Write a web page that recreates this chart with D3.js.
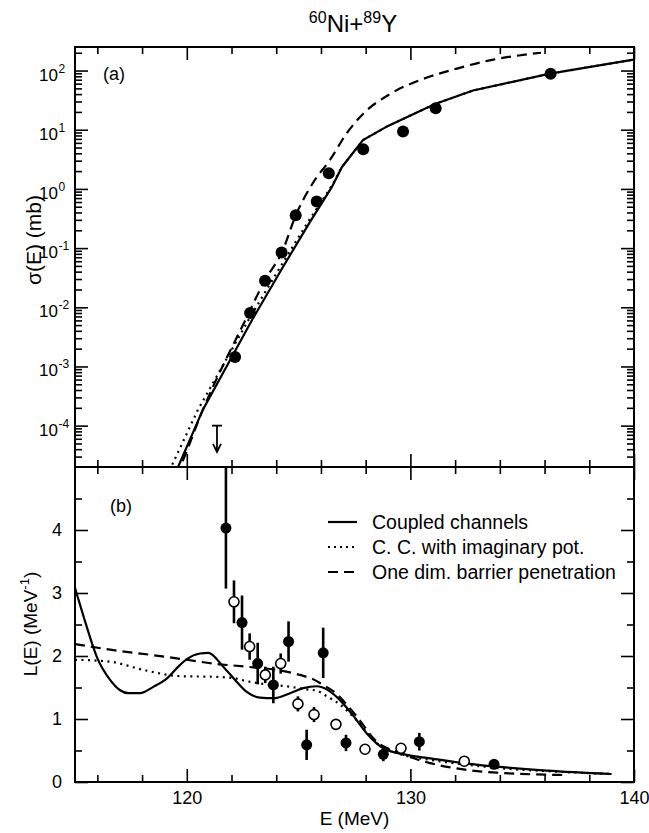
<!DOCTYPE html>
<html>
<head>
<meta charset="utf-8">
<script src="https://cdn.jsdelivr.net/npm/d3@7"></script>
<style>
body { margin: 0; background: #fff; }
text { font-family: "Liberation Sans", Arial, Helvetica, sans-serif; fill: #000; }
</style>
</head>
<body>
<div id="chartContainer"></div>
<script>
// (a) measured fusion cross section, mb
var sigmaE = [122.16, 122.83, 123.50, 124.24, 124.87, 125.81, 126.35, 127.89, 129.67, 131.13, 136.27];
var sigmaVal = [1.45e-3, 8.0e-3, 0.028, 0.084, 0.36, 0.61, 1.84, 4.7, 9.3, 23, 88];
// upper limit (arrow)
var limitE = [121.35];
var limitVal = [1.0e-4];
var limitTip = [3.6e-5];

// (a) calculations
var ccE = [119.2, 119.61, 120.72, 122.96, 124.30, 125.51, 126.49, 126.94, 127.88, 129.00, 131.10, 132.80, 136.24, 139.91, 140.5];
var ccSigma = [8.5e-6, 2.0e-5, 1.86e-4, 6.5e-3, 0.048, 0.277, 1.08, 2.35, 6.7, 11.6, 27.2, 46, 88.5, 151, 160];
var ccImE = [118.95, 119.3, 120.5, 122.8, 124.18, 125.42, 126.45, 126.94, 127.88, 129.00, 131.10, 132.80, 136.24, 139.91, 140.5];
var ccImSigma = [8.5e-6, 2.0e-5, 1.86e-4, 6.5e-3, 0.048, 0.277, 1.08, 2.35, 6.7, 11.6, 27.2, 46, 88.5, 151, 160];
var oneDimE = [119.2, 119.70, 120.72, 122.69, 123.50, 124.26, 124.88, 125.64, 126.40, 127.16, 127.88, 129.09, 130.56, 132.08, 133.60, 135.84];
var oneDimSigma = [8.2e-6, 2.0e-5, 1.86e-4, 6.9e-3, 0.029, 0.086, 0.363, 1.26, 3.08, 8.8, 18.5, 40.2, 72, 108, 150, 200];

// (b) L(E), MeV^-1
var filledE = [121.75, 122.47, 123.17, 123.87, 124.55, 125.36, 126.10, 127.12, 128.79, 130.40, 133.74];
var filledL = [4.03, 2.53, 1.88, 1.54, 2.23, 0.59, 2.05, 0.62, 0.44, 0.64, 0.28];
var filledErr = [0.96, 0.43, 0.33, 0.29, 0.32, 0.24, 0.40, 0.13, 0.11, 0.14, 0.05];
var openE = [122.11, 122.81, 123.51, 124.20, 124.97, 125.69, 126.67, 127.97, 129.58, 132.41];
var openL = [2.86, 2.15, 1.70, 1.88, 1.24, 1.07, 0.915, 0.52, 0.535, 0.33];
var openErr = [0.34, 0.21, 0.13, 0.16, 0.12, 0.12, 0.07, 0.04, 0.04, 0.04];

var lccE = [115.0, 115.52, 115.97, 116.57, 117.0, 117.38, 117.91, 118.5, 119.03, 119.70, 120.0, 120.59, 120.96, 121.63, 122.16, 122.68, 123.27, 123.87, 124.62, 125.21, 125.81, 126.26, 126.85, 127.45, 128.05, 128.79, 129.83, 130.88, 132.37, 133.86, 136.10, 139.0];
var lccL = [3.08, 2.47, 1.99, 1.62, 1.46, 1.41, 1.41, 1.51, 1.62, 1.86, 1.95, 2.04, 2.05, 1.83, 1.62, 1.43, 1.34, 1.33, 1.41, 1.49, 1.52, 1.47, 1.30, 1.05, 0.77, 0.535, 0.43, 0.376, 0.30, 0.243, 0.18, 0.127];
var lccImE = [115.0, 116.57, 118.05, 119.70, 121.18, 122.08, 122.68, 123.57, 124.47, 125.36, 125.81, 126.26, 126.85, 127.60, 128.49, 129.40, 130.90, 132.40, 134.0, 136.5, 139.0];
var lccImL = [1.94, 1.91, 1.78, 1.68, 1.67, 1.65, 1.60, 1.55, 1.52, 1.47, 1.45, 1.36, 1.23, 0.98, 0.62, 0.46, 0.35, 0.28, 0.22, 0.165, 0.127];
var lOneDimE = [115.0, 116.57, 118.35, 120.0, 121.18, 122.68, 124.17, 125.06, 125.6, 126.10, 126.70, 127.1, 127.60, 128.49, 129.38, 130.88, 132.37, 133.86, 136.99];
var lOneDimL = [2.19, 2.10, 2.02, 1.94, 1.88, 1.83, 1.77, 1.70, 1.64, 1.54, 1.40, 1.25, 1.04, 0.64, 0.48, 0.30, 0.20, 0.148, 0.11];

var xTicks = [120, 130, 140];
var lTicks = [0, 1, 2, 3, 4];
var sigmaExps = [-4, -3, -2, -1, 0, 1, 2];
var legendNames = ["Coupled channels", "C. C. with imaginary pot.", "One dim. barrier penetration"];

Chart = {
	width : 649,
	height : 833,
	left : 75, // rāmja kreisā mala
	right : 634,
	topA : 47, // (a) augša
	bottomA : 467,
	bottomB : 782,
	major : 13, // galveno iedaļu garums
	minor : 7,

	drawChart : function(){
		var svg = d3.select("#chartContainer")
			.append("svg")
			.attr("width", Chart.width)
			.attr("height", Chart.height);

		var x = d3.scaleLinear().domain([115, 140]).range([Chart.left, Chart.right]);
		var yA = d3.scaleLog().domain([2e-5, 250]).range([Chart.bottomA, Chart.topA]);
		var yB = d3.scaleLinear().domain([0, 5]).range([Chart.bottomB, Chart.bottomA]);

		var defs = svg.append("defs");
		defs.append("clipPath").attr("id", "clipA").append("rect")
			.attr("x", Chart.left).attr("y", Chart.topA)
			.attr("width", Chart.right - Chart.left).attr("height", Chart.bottomA - Chart.topA);
		defs.append("clipPath").attr("id", "clipB").append("rect")
			.attr("x", Chart.left).attr("y", Chart.bottomA)
			.attr("width", Chart.right - Chart.left).attr("height", Chart.bottomB - Chart.bottomA);

		this.drawTitle(svg);
		this.drawXAxes(svg, x);
		this.drawSigmaAxes(svg, yA);
		this.drawLAxes(svg, yB);
		this.drawPanelA(svg, x, yA);
		this.drawPanelB(svg, x, yB);
		this.drawLegend(svg);

		// rāmji
		svg.append("rect")
			.attr("x", Chart.left).attr("y", Chart.topA)
			.attr("width", Chart.right - Chart.left).attr("height", Chart.bottomB - Chart.topA)
			.style("fill", "none").style("stroke", "#000").style("stroke-width", 2);
		svg.append("line")
			.attr("x1", Chart.left).attr("x2", Chart.right)
			.attr("y1", Chart.bottomA).attr("y2", Chart.bottomA)
			.style("stroke", "#000").style("stroke-width", 2);
	},

	drawTitle : function(svg){
		var t = svg.append("text")
			.attr("x", 353)
			.attr("y", 32)
			.attr("text-anchor", "middle")
			.style("font-size", "24px");
		t.append("tspan").attr("dy", -9).style("font-size", "16px").text("60");
		t.append("tspan").attr("dy", 9).text("Ni+");
		t.append("tspan").attr("dy", -9).style("font-size", "16px").text("89");
		t.append("tspan").attr("dy", 9).text("Y");
	},

	tickAxis : function(svg, axisFn, scale, values, size, translate){
		var g = svg.append("g")
			.attr("transform", translate)
			.call(axisFn(scale).tickValues(values).tickSize(-size).tickFormat(""));
		g.select(".domain").remove();
		g.selectAll("line").style("stroke", "#000").style("stroke-width", 1.6);
		return g;
	},

	drawXAxes : function(svg, x){
		var minorX = d3.range(116, 141, 2).filter(function(d){ return d % 10 != 0; });
		var tb = "translate(0," + Chart.bottomB + ")";
		var tm = "translate(0," + Chart.bottomA + ")";
		var tt = "translate(0," + Chart.topA + ")";

		// (b) apakšējā ass ar uzrakstiem
		var g = svg.append("g")
			.attr("transform", tb)
			.call(d3.axisBottom(x).tickValues(xTicks).tickSize(-Chart.major).tickPadding(9).tickFormat(d3.format("d")));
		g.select(".domain").remove();
		g.selectAll("line").style("stroke", "#000").style("stroke-width", 1.6);
		g.selectAll("text").style("font-size", "18px").style("font-family", "Liberation Sans, Arial, sans-serif").attr("fill", "#000");
		this.tickAxis(svg, d3.axisBottom, x, minorX, Chart.minor, tb);

		// starp paneļiem: (a) uz augšu, (b) uz leju
		this.tickAxis(svg, d3.axisBottom, x, xTicks, Chart.major, tm);
		this.tickAxis(svg, d3.axisBottom, x, minorX, Chart.minor, tm);
		this.tickAxis(svg, d3.axisTop, x, xTicks, Chart.major, tm);
		this.tickAxis(svg, d3.axisTop, x, minorX, Chart.minor, tm);

		// (a) augšā
		this.tickAxis(svg, d3.axisTop, x, xTicks, Chart.major, tt);
		this.tickAxis(svg, d3.axisTop, x, minorX, Chart.minor, tt);

		svg.append("text")
			.attr("x", x(127.5))
			.attr("y", 825)
			.attr("text-anchor", "middle")
			.style("font-size", "19px")
			.text("E (MeV)");
	},

	drawSigmaAxes : function(svg, yA){
		var majors = sigmaExps.map(function(e){ return Math.pow(10, e); });
		var minors = [];
		for (var e = -5; e <= 2; e++) {
			for (var m = 2; m <= 9; m++) {
				var v = m * Math.pow(10, e);
				if (v > yA.domain()[0] && v < yA.domain()[1]) minors.push(v);
			}
		}
		var tl = "translate(" + Chart.left + ",0)";
		var tr = "translate(" + Chart.right + ",0)";
		this.tickAxis(svg, d3.axisLeft, yA, majors, Chart.major, tl);
		this.tickAxis(svg, d3.axisLeft, yA, minors, Chart.minor, tl);
		this.tickAxis(svg, d3.axisRight, yA, majors, Chart.major, tr);
		this.tickAxis(svg, d3.axisRight, yA, minors, Chart.minor, tr);

		var lab = svg.append("g").attr("class", "sigma-labels");
		sigmaExps.forEach(function(e){
			var y = yA(Math.pow(10, e));
			lab.append("text")
				.attr("x", 58)
				.attr("y", y + 10)
				.attr("text-anchor", "end")
				.style("font-size", "17px")
				.text("10");
			lab.append("text")
				.attr("x", 58.5)
				.attr("y", y + 2)
				.attr("text-anchor", "start")
				.style("font-size", "12px")
				.text(e < 0 ? "-" + (-e) : e);
		});

		svg.append("text")
			.attr("transform", "translate(41,240) rotate(-90)")
			.attr("text-anchor", "middle")
			.style("font-size", "21px")
			.text("\u03c3(E) (mb)");
	},

	drawLAxes : function(svg, yB){
		var minorL = [0.5, 1.5, 2.5, 3.5, 4.5];
		var tl = "translate(" + Chart.left + ",0)";
		var tr = "translate(" + Chart.right + ",0)";

		var g = svg.append("g")
			.attr("transform", tl)
			.call(d3.axisLeft(yB).tickValues(lTicks).tickSize(-Chart.major).tickPadding(13).tickFormat(d3.format("d")));
		g.select(".domain").remove();
		g.selectAll("line").style("stroke", "#000").style("stroke-width", 1.6);
		g.selectAll("text").style("font-size", "18px").style("font-family", "Liberation Sans, Arial, sans-serif").attr("fill", "#000");
		this.tickAxis(svg, d3.axisLeft, yB, minorL, Chart.minor, tl);
		this.tickAxis(svg, d3.axisRight, yB, lTicks, Chart.major, tr);
		this.tickAxis(svg, d3.axisRight, yB, minorL, Chart.minor, tr);

		var t = svg.append("text")
			.attr("transform", "translate(37,624) rotate(-90)")
			.attr("text-anchor", "middle")
			.style("font-size", "19px");
		t.append("tspan").text("L(E) (MeV");
		t.append("tspan").attr("dy", -8).style("font-size", "13px").text("-1");
		t.append("tspan").attr("dy", 8).text(")");
	},

	drawCurve : function(g, xs, ys, x, y, dash, curve){
		var pts = xs.map(function(d, i){ return [x(d), y(ys[i])]; });
		g.append("path")
			.attr("d", d3.line().curve(curve)(pts))
			.style("fill", "none")
			.style("stroke", "#000")
			.style("stroke-width", 2.2)
			.style("stroke-dasharray", dash);
	},

	drawPanelA : function(svg, x, yA){
		var g = svg.append("g").attr("clip-path", "url(#clipA)");
		this.drawCurve(g, ccImE, ccImSigma, x, yA, "2,4.5", d3.curveLinear);
		this.drawCurve(g, oneDimE, oneDimSigma, x, yA, "10,6", d3.curveMonotoneX);
		this.drawCurve(g, ccE, ccSigma, x, yA, null, d3.curveLinear);

		g.selectAll("circle.sig")
			.data(sigmaE)
			.enter().append("circle")
			.attr("class", "sig")
			.attr("cx", function(d){ return x(d); })
			.attr("cy", function(d, i){ return yA(sigmaVal[i]); })
			.attr("r", 6)
			.style("fill", "#000");

		// augšējā robeža
		limitE.forEach(function(e, i){
			var cx = x(e), y1 = yA(limitVal[i]), y2 = yA(limitTip[i]);
			g.append("line").attr("x1", cx - 5).attr("x2", cx + 5).attr("y1", y1).attr("y2", y1)
				.style("stroke", "#000").style("stroke-width", 1.8);
			g.append("line").attr("x1", cx).attr("x2", cx).attr("y1", y1).attr("y2", y2 - 1)
				.style("stroke", "#000").style("stroke-width", 1.8);
			g.append("path").attr("d", "M" + (cx - 4) + "," + (y2 - 8) + "L" + cx + "," + y2 + "L" + (cx + 4) + "," + (y2 - 8))
				.style("fill", "none").style("stroke", "#000").style("stroke-width", 1.8);
		});

		svg.append("text")
			.attr("x", 103)
			.attr("y", 80)
			.style("font-size", "18px")
			.text("(a)");
	},

	drawPanelB : function(svg, x, yB){
		var g = svg.append("g").attr("clip-path", "url(#clipB)");
		this.drawCurve(g, lccImE, lccImL, x, yB, "2,4.5", d3.curveMonotoneX);
		this.drawCurve(g, lOneDimE, lOneDimL, x, yB, "10,6", d3.curveMonotoneX);
		this.drawCurve(g, lccE, lccL, x, yB, null, d3.curveMonotoneX);

		openE.forEach(function(e, i){
			g.append("line")
				.attr("x1", x(e)).attr("x2", x(e))
				.attr("y1", yB(openL[i] - openErr[i])).attr("y2", yB(openL[i] + openErr[i]))
				.style("stroke", "#000").style("stroke-width", 2.6);
		});
		filledE.forEach(function(e, i){
			g.append("line")
				.attr("x1", x(e)).attr("x2", x(e))
				.attr("y1", yB(filledL[i] - filledErr[i])).attr("y2", yB(filledL[i] + filledErr[i]))
				.style("stroke", "#000").style("stroke-width", 2.6);
		});
		g.selectAll("circle.open")
			.data(openE)
			.enter().append("circle")
			.attr("class", "open")
			.attr("cx", function(d){ return x(d); })
			.attr("cy", function(d, i){ return yB(openL[i]); })
			.attr("r", 5)
			.style("fill", "#fff")
			.style("stroke", "#000")
			.style("stroke-width", 1.6);
		g.selectAll("circle.filled")
			.data(filledE)
			.enter().append("circle")
			.attr("class", "filled")
			.attr("cx", function(d){ return x(d); })
			.attr("cy", function(d, i){ return yB(filledL[i]); })
			.attr("r", 5.5)
			.style("fill", "#000");

		svg.append("text")
			.attr("x", 110)
			.attr("y", 512)
			.style("font-size", "18px")
			.text("(b)");
	},

	drawLegend : function(svg){
		var dashes = [null, "2,4", "10,6"];
		var g = svg.append("g").attr("class", "legend");
		legendNames.forEach(function(name, i){
			var y = 522 + i * 25;
			g.append("line")
				.attr("x1", 328).attr("x2", 357)
				.attr("y1", y).attr("y2", y)
				.style("stroke", "#000")
				.style("stroke-width", 2.2)
				.style("stroke-dasharray", dashes[i]);
			g.append("text")
				.attr("x", 372)
				.attr("y", y + 6.5)
				.style("font-size", "19.5px")
				.text(name);
		});
	}
};

Chart.drawChart();
</script>
</body>
</html>
